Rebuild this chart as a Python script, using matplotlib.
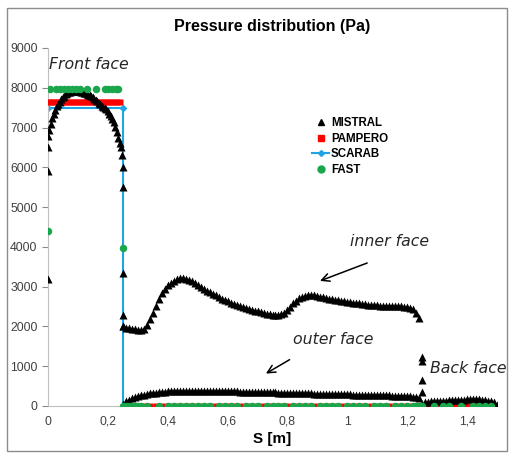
import matplotlib
matplotlib.use("Agg")
import matplotlib.pyplot as plt
import numpy as np
from matplotlib.lines import Line2D
from matplotlib.patches import Rectangle

# MISTRAL, front face (s in m, pressure in Pa)
mistral_front_s = [0.0, 0.0, 0.0, 0.0, 0.005, 0.01, 0.015, 0.02, 0.025, 0.03, 0.035,
                   0.04, 0.045, 0.05, 0.055, 0.06, 0.065, 0.07, 0.075, 0.08, 0.085,
                   0.09, 0.095, 0.10, 0.105, 0.11, 0.115, 0.12, 0.125, 0.13, 0.135,
                   0.14, 0.145, 0.15, 0.155, 0.16, 0.165, 0.17, 0.175, 0.18, 0.185,
                   0.19, 0.195, 0.20, 0.205, 0.21, 0.215, 0.22, 0.225, 0.23, 0.235,
                   0.24, 0.243, 0.246, 0.25, 0.25, 0.25, 0.25, 0.25]
mistral_front_p = [3200, 5900, 6500, 6800, 6950, 7100, 7250, 7350, 7450, 7530, 7600,
                   7650, 7710, 7760, 7800, 7840, 7870, 7890, 7905, 7915, 7920,
                   7925, 7925, 7920, 7915, 7905, 7895, 7880, 7865, 7850, 7830,
                   7810, 7785, 7760, 7730, 7700, 7665, 7625, 7585, 7540, 7520,
                   7500, 7460, 7420, 7350, 7280, 7210, 7130, 7020, 6900, 6750,
                   6600, 6500, 6300, 6000, 5500, 3350, 2300, 2000]

# MISTRAL, inner face
mistral_inner_s = np.round(np.arange(0.25, 1.245, 0.01), 2)
mistral_inner_p = [2000, 1950, 1950, 1940, 1930, 1910, 1900, 1930, 2040, 2180,
                   2340, 2520, 2700, 2840, 2950, 3040, 3100, 3150, 3190, 3215,
                   3220, 3200, 3170, 3130, 3080, 3030, 2980, 2940, 2900, 2860,
                   2820, 2780, 2740, 2700, 2660, 2630, 2600, 2570, 2540, 2510,
                   2490, 2460, 2440, 2420, 2400, 2380, 2360, 2340, 2320, 2310,
                   2300, 2290, 2290, 2310, 2350, 2420, 2500, 2580, 2650, 2710,
                   2750, 2770, 2790, 2790, 2780, 2760, 2750, 2730, 2720, 2700,
                   2690, 2670, 2660, 2640, 2630, 2620, 2610, 2600, 2590, 2580,
                   2570, 2560, 2550, 2540, 2535, 2530, 2520, 2515, 2510, 2510,
                   2510, 2510, 2510, 2505, 2500, 2490, 2470, 2430, 2350, 2220]

# MISTRAL, outer face
mistral_outer_s = np.round(np.arange(0.25, 1.245, 0.01), 2)
mistral_outer_p = [60, 120, 160, 190, 220, 245, 265, 285, 300, 315,
                   325, 338, 348, 356, 363, 369, 374, 378, 381, 383,
                   385, 386, 387, 387, 387, 387, 386, 385, 384, 383,
                   382, 380, 378, 376, 374, 372, 370, 368, 366, 364,
                   362, 360, 358, 356, 354, 352, 350, 348, 346, 344,
                   342, 340, 338, 336, 334, 332, 330, 328, 326, 324,
                   322, 320, 318, 316, 314, 312, 310, 308, 306, 304,
                   302, 300, 298, 296, 294, 292, 290, 288, 286, 284,
                   282, 280, 278, 276, 274, 272, 270, 268, 266, 264,
                   262, 260, 258, 255, 252, 248, 242, 232, 215, 190]

# MISTRAL, back face
mistral_back_s = [1.25, 1.25, 1.25, 1.25, 1.25, 1.26, 1.27, 1.28, 1.29, 1.30, 1.31,
                  1.32, 1.33, 1.34, 1.35, 1.36, 1.37, 1.38, 1.39, 1.40, 1.41,
                  1.42, 1.43, 1.44, 1.45, 1.46, 1.47, 1.48, 1.49, 1.50]
mistral_back_p = [1230, 1130, 650, 350, 60, 90, 110, 120, 125, 130, 130,
                  135, 135, 140, 140, 140, 145, 150, 155, 165, 175,
                  180, 175, 165, 150, 140, 135, 130, 110, 30]

# PAMPERO
pampero_front_s = [0.005, 0.01, 0.02, 0.03, 0.04, 0.05, 0.06, 0.07, 0.08, 0.09, 0.10,
                   0.11, 0.12, 0.13, 0.14, 0.15, 0.16, 0.17, 0.18, 0.19, 0.20,
                   0.21, 0.22, 0.23, 0.24]
pampero_front_p = [7650] * len(pampero_front_s)
pampero_wall_s = np.round(np.arange(0.26, 1.50, 0.02), 2)
pampero_wall_p = np.zeros(len(pampero_wall_s))

# SCARAB
scarab_s = [0.0, 0.25, 0.25, 1.5]
scarab_p = [7500, 7500, 0, 0]

# FAST
fast_front_s = [0.0, 0.008, 0.027, 0.04, 0.053, 0.066, 0.08, 0.093, 0.106, 0.131,
                0.16, 0.19, 0.20, 0.213, 0.227, 0.235, 0.25]
fast_front_p = [4400, 7960, 7960, 7960, 7960, 7960, 7960, 7960, 7960, 7960,
                7960, 7960, 7960, 7960, 7960, 7960, 3960]
fast_wall_s = [0.25, 0.26, 0.27, 0.28, 0.29, 0.30, 0.31, 0.33, 0.37, 0.40, 0.42,
               0.44, 0.46, 0.48, 0.50, 0.52, 0.54, 0.57, 0.59, 0.61, 0.63, 0.66,
               0.68, 0.70, 0.73, 0.75, 0.77, 0.79, 0.82, 0.84, 0.86, 0.88, 0.91,
               0.93, 0.95, 0.97, 1.00, 1.02, 1.04, 1.06, 1.09, 1.11, 1.13, 1.16,
               1.18, 1.20, 1.22, 1.23, 1.24, 1.25, 1.29, 1.32, 1.34, 1.38, 1.42,
               1.44, 1.46, 1.48]
fast_wall_p = np.zeros(len(fast_wall_s))

x_ticks = [0, 0.2, 0.4, 0.6, 0.8, 1.0, 1.2, 1.4]
x_tick_labels = ["0", "0,2", "0,4", "0,6", "0,8", "1", "1,2", "1,4"]
y_ticks = [0, 1000, 2000, 3000, 4000, 5000, 6000, 7000, 8000, 9000]

scarab_blue = "#1ea5e6"
green = "#1aa64a"
grey = "#8c8c8c"
txt = "#404040"

plt.rcParams["font.family"] = ["Liberation Sans", "DejaVu Sans"]

fig = plt.figure(figsize=(5.09, 4.57), dpi=100)
ax = fig.add_axes([48 / 509, 51 / 457, 449 / 509, 358 / 457])

mistral_s = np.concatenate([mistral_front_s, mistral_inner_s, mistral_outer_s, mistral_back_s])
mistral_p = np.concatenate([mistral_front_p, mistral_inner_p, mistral_outer_p, mistral_back_p])

ax.plot(scarab_s, scarab_p, color=scarab_blue, lw=1.5, marker="D", ms=3, zorder=2)
ax.plot(np.concatenate([pampero_front_s, pampero_wall_s]),
        np.concatenate([pampero_front_p, pampero_wall_p]),
        ls="none", marker="s", ms=4.8, color="#ff0000", mec="none", zorder=3)
ax.plot(mistral_s, mistral_p, ls="none", marker="^", ms=5.4, color="black", mec="none", zorder=4)
ax.plot(np.concatenate([fast_front_s, fast_wall_s]),
        np.concatenate([fast_front_p, fast_wall_p]),
        ls="none", marker="o", ms=5.4, color=green, mec="none", zorder=5)

ax.set_xlim(0, 1.5)
ax.set_ylim(0, 9000)
ax.set_xticks(x_ticks)
ax.set_xticklabels(x_tick_labels)
ax.set_yticks(y_ticks)
ax.tick_params(axis="both", colors=grey, labelcolor=txt, labelsize=8.8, length=4, width=0.8)
ax.tick_params(axis="x", length=0, pad=7)
for side in ["top", "right"]:
    ax.spines[side].set_visible(False)
for side in ["left", "bottom"]:
    ax.spines[side].set_color("#bfbfbf")
    ax.spines[side].set_linewidth(0.8)

ax.set_title("Pressure distribution (Pa)", fontsize=11.5, fontweight="bold", pad=12)
ax.set_xlabel("S [m]", fontsize=11, fontweight="bold", labelpad=3)

# face labels and arrows
face_font = dict(fontsize=11.3, style="italic", family="DejaVu Sans", color="#262626")
ax.text(0.005, 8470, "Front face", **face_font)
ax.text(1.01, 4030, "inner face", **face_font)
ax.text(0.82, 1560, "outer face", **face_font)
ax.text(1.275, 840, "Back face", **face_font)
arrow = dict(arrowstyle="->", color="black", lw=1.1, mutation_scale=14)
ax.annotate("", xy=(0.90, 3120), xytext=(1.075, 3620), arrowprops=arrow)
ax.annotate("", xy=(0.72, 780), xytext=(0.815, 1200), arrowprops=arrow)

handles = [
    Line2D([], [], ls="none", marker="^", ms=5, color="black"),
    Line2D([], [], ls="none", marker="s", ms=4.5, color="#ff0000"),
    Line2D([], [], color=scarab_blue, lw=1.5, marker="D", ms=3),
    Line2D([], [], ls="none", marker="o", ms=5, color=green),
]
ax.legend(handles, ["MISTRAL", "PAMPERO", "SCARAB", "FAST"], loc="upper left",
          bbox_to_anchor=(0.565, 0.835), frameon=False, handlelength=1.5,
          handletextpad=0.15, labelspacing=0.3, prop=dict(size=8.3, weight="bold"))

fig.patches.append(Rectangle((7 / 509, 6 / 457), 500 / 509, 443 / 457, transform=fig.transFigure,
                             fill=False, edgecolor=grey, lw=1))

fig.savefig("out.png", dpi=100)
